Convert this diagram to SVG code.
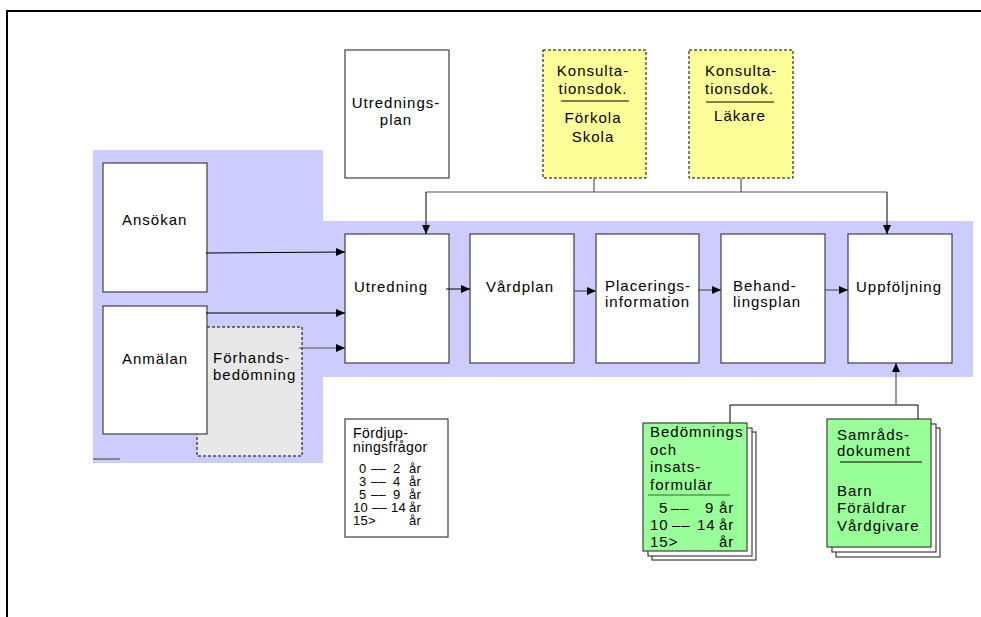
<svg xmlns="http://www.w3.org/2000/svg" width="981" height="617" viewBox="0 0 981 617">
<style>
text{font-family:"Liberation Sans",Arial,sans-serif;font-size:15px;fill:#000;letter-spacing:1px}
.box{fill:#fff;stroke:#404040;stroke-width:1.2}
.yel{fill:#ffff99;stroke:#000;stroke-width:1;stroke-dasharray:3,2}
.gry{fill:#e8e8e8;stroke:#000;stroke-width:1;stroke-dasharray:3,2}
.grn{fill:#99ff99;stroke:#404040;stroke-width:1.2}
.pg{fill:#fff;stroke:#404040;stroke-width:1.2}
.c{fill:none;stroke:#000;stroke-width:1}
.cg{fill:none;stroke:#555;stroke-width:1.2}
.sep{stroke:#000;stroke-width:1}
.sm{font-size:14px;letter-spacing:0.4px}
.row{font-size:13px;letter-spacing:0.3px}
.mid{text-anchor:middle}
</style>
<defs>
<marker id="ah" markerUnits="userSpaceOnUse" markerWidth="10" markerHeight="9" refX="9" refY="4" orient="auto">
<path d="M0,0 L9,4 L0,8 z" fill="#000"/>
</marker>
</defs>
<g id="frame">
<line x1="7" y1="11" x2="981" y2="11" stroke="#000" stroke-width="2"/>
<line x1="7" y1="10" x2="7" y2="617" stroke="#000" stroke-width="2"/>
</g>
<g id="background">
<polygon points="93,150 323,150 323,221 973,221 973,377 323,377 323,463 93,463" fill="#ccccff"/>
<line x1="93" y1="459" x2="120" y2="459" stroke="#555" stroke-width="1.2"/>
</g>
<g id="ansokan">
<rect class="box" x="103" y="163" width="104" height="129"/>
<text x="122" y="225">Ansökan</text>
</g>
<g id="forhandsbedomning">
<rect class="gry" x="197" y="327" width="105" height="129"/>
<text x="213" y="363">Förhands-</text>
<text x="213" y="380">bedömning</text>
</g>
<g id="anmalan">
<rect class="box" x="103" y="306" width="104" height="128"/>
<text x="122" y="364">Anmälan</text>
</g>
<g id="utredningsplan">
<rect class="box" x="345" y="50" width="104" height="128"/>
<text x="396" y="108" class="mid">Utrednings-</text>
<text x="396" y="125" class="mid">plan</text>
</g>
<g id="konsult-forskola">
<rect class="yel" x="543" y="50" width="103" height="128"/>
<text x="593" y="76" class="mid">Konsulta-</text>
<text x="593" y="94" class="mid">tionsdok.</text>
<line class="sep" x1="561" y1="101" x2="629" y2="101"/>
<text x="593" y="123" class="mid">Förkola</text>
<text x="593" y="142" class="mid">Skola</text>
</g>
<g id="konsult-lakare">
<rect class="yel" x="689" y="50" width="104" height="128"/>
<text x="705" y="76">Konsulta-</text>
<text x="705" y="94">tionsdok.</text>
<line class="sep" x1="706" y1="102" x2="774" y2="102"/>
<text x="740" y="121" class="mid">Läkare</text>
</g>
<g id="utredning">
<rect class="box" x="345" y="234" width="104" height="129"/>
<text x="354" y="292">Utredning</text>
</g>
<g id="vardplan">
<rect class="box" x="470" y="234" width="104" height="129"/>
<text x="486" y="292">Vårdplan</text>
</g>
<g id="placeringsinformation">
<rect class="box" x="596" y="234" width="103" height="129"/>
<text x="605" y="291">Placerings-</text>
<text x="605" y="307">information</text>
</g>
<g id="behandlingsplan">
<rect class="box" x="721" y="234" width="104" height="129"/>
<text x="733" y="291">Behand-</text>
<text x="733" y="307">lingsplan</text>
</g>
<g id="uppfoljning">
<rect class="box" x="848" y="234" width="104" height="129"/>
<text x="856" y="292">Uppföljning</text>
</g>
<g id="fordjupningsfragor">
<rect class="box" x="345" y="419" width="103" height="118"/>
<text class="sm" x="353" y="438">Fördjup-</text>
<text class="sm" x="353" y="452">ningsfrågor</text>
<text class="row" y="473"><tspan x="359">0</tspan><tspan x="371">––</tspan><tspan x="393">2</tspan><tspan x="409">år</tspan></text>
<text class="row" y="486"><tspan x="359">3</tspan><tspan x="371">––</tspan><tspan x="393">4</tspan><tspan x="409">år</tspan></text>
<text class="row" y="499"><tspan x="359">5</tspan><tspan x="371">––</tspan><tspan x="393">9</tspan><tspan x="409">år</tspan></text>
<text class="row" y="512"><tspan x="353">10</tspan><tspan x="372">––</tspan><tspan x="391">14</tspan><tspan x="409">år</tspan></text>
<text class="row" y="525"><tspan x="353">15&gt;</tspan><tspan x="409">år</tspan></text>
</g>
<g id="bedomningsformular">
<rect class="pg" x="652" y="432" width="104" height="128"/>
<rect class="pg" x="648" y="428" width="104" height="128"/>
<rect class="grn" x="643" y="423" width="104" height="128"/>
<text x="650" y="437">Bedömnings</text>
<text x="650" y="455">och</text>
<text x="650" y="472">insats-</text>
<text x="650" y="490">formulär</text>
<line x1="648" y1="495" x2="730" y2="495" stroke="#336633" stroke-width="1.2"/>
<text y="513"><tspan x="659">5</tspan><tspan x="671">––</tspan><tspan x="705">9</tspan><tspan x="719">år</tspan></text>
<text y="530"><tspan x="650">10</tspan><tspan x="672">––</tspan><tspan x="697">14</tspan><tspan x="719">år</tspan></text>
<text y="547"><tspan x="650">15&gt;</tspan><tspan x="719">år</tspan></text>
</g>
<g id="samradsdokument">
<rect class="pg" x="836" y="428" width="104" height="129"/>
<rect class="pg" x="832" y="424" width="104" height="128"/>
<rect class="grn" x="827" y="419" width="104" height="128"/>
<text x="837" y="440">Samråds-</text>
<text x="837" y="456">dokument</text>
<line class="sep" x1="840" y1="462" x2="922" y2="462"/>
<text x="837" y="496">Barn</text>
<text x="837" y="513">Föräldrar</text>
<text x="837" y="531">Vårdgivare</text>
</g>
<g id="connectors">
<line class="c" x1="206" y1="253" x2="345" y2="252" marker-end="url(#ah)"/>
<line class="c" x1="206" y1="313" x2="345" y2="313" marker-end="url(#ah)"/>
<line class="cg" x1="299" y1="348" x2="345" y2="348" marker-end="url(#ah)"/>
<line class="c" x1="446" y1="289" x2="470" y2="289" marker-end="url(#ah)"/>
<line class="cg" x1="574" y1="291" x2="596" y2="291" marker-end="url(#ah)"/>
<line class="cg" x1="698" y1="290" x2="721" y2="290" marker-end="url(#ah)"/>
<line class="cg" x1="825" y1="290" x2="848" y2="290" marker-end="url(#ah)"/>
<line class="cg" x1="594" y1="178" x2="594" y2="192"/>
<line class="cg" x1="741" y1="178" x2="741" y2="192"/>
<line class="cg" x1="426" y1="192" x2="887" y2="192"/>
<line class="c" x1="426" y1="192" x2="426" y2="234" marker-end="url(#ah)"/>
<line class="c" x1="887" y1="192" x2="887" y2="234" marker-end="url(#ah)"/>
<polyline class="c" points="730,423 730,405 918,405 918,419"/>
<line class="cg" x1="896" y1="405" x2="896" y2="363" marker-end="url(#ah)"/>
</g>
</svg>
